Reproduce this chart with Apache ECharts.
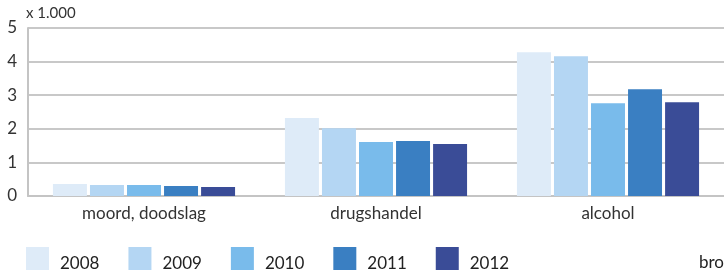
<!DOCTYPE html>
<html>
<head>
<meta charset="utf-8">
<script src="https://cdn.jsdelivr.net/npm/echarts@6/dist/echarts.min.js"></script>
<style>
  html, body { margin: 0; padding: 0; background: #fff; }
  #chart { width: 724px; height: 273px; }
</style>
</head>
<body>
<div id="chart"></div>
<script>
// categories and values (x 1.000)
const categories = ['moord, doodslag', 'drugshandel', 'alcohol'];
const years = ['2008', '2009', '2010', '2011', '2012'];
const v2008 = [0.36, 2.32, 4.28];
const v2009 = [0.33, 2.02, 4.16];
const v2010 = [0.33, 1.61, 2.76];
const v2011 = [0.30, 1.64, 3.18];
const v2012 = [0.27, 1.55, 2.79];
const yTicks = [0, 1, 2, 3, 4, 5];

const colors = ['#deebf8', '#b4d6f3', '#79bbeb', '#3a7fc2', '#3a4c97'];
const font = 'Lato, "Open Sans", sans-serif';

const seriesData = [v2008, v2009, v2010, v2011, v2012];

const chart = echarts.init(document.getElementById('chart'));

const options = {
  animation: false,
  textStyle: { fontFamily: font },
  grid: { left: 28, right: -3, top: 28, bottom: 77 },
  legend: {
    data: years,
    left: 26,
    top: 247,
    padding: 0,
    itemWidth: 23,
    itemHeight: 23,
    itemGap: 29,
    icon: 'rect',
    // push the year labels down so they sit low next to the squares
    formatter: (name) => '{s| }\n{t|' + name + '}',
    textStyle: {
      fontFamily: font, fontSize: 17, color: '#222', padding: [0, 0, 0, 6],
      rich: {
        s: { fontSize: 1, lineHeight: 11 },
        t: { fontFamily: font, fontSize: 17, lineHeight: 17, color: '#222' },
      },
    },
  },
  xAxis: {
    type: 'category',
    data: categories,
    axisLine: { lineStyle: { color: '#c4c4c4', width: 2 } },
    axisTick: { show: false },
    axisLabel: { fontFamily: font, fontSize: 17, color: '#333', margin: 9 },
  },
  yAxis: {
    type: 'value',
    min: 0,
    max: 5,
    interval: 1,
    name: 'x 1.000',
    nameLocation: 'end',
    nameGap: 7,
    nameTextStyle: { fontFamily: font, fontSize: 15, color: '#333', align: 'left', padding: [0, 0, 0, -2] },
    axisLine: { show: true, lineStyle: { color: '#c4c4c4', width: 2 } },
    axisTick: { show: false },
    axisLabel: {
      fontFamily: font, fontSize: 17, color: '#333', margin: 11,
      formatter: (v) => (yTicks.includes(v) ? String(v) : ''),
    },
    splitLine: { lineStyle: { color: '#c8c8c8', width: 2 } },
  },
  series: years.map((y, i) => ({
    name: y,
    type: 'bar',
    data: seriesData[i],
    barGap: '9%',
    barCategoryGap: '21.5%',
    itemStyle: { color: colors[i] },
  })),
  graphic: [
    {
      type: 'text',
      left: 699,
      top: 254,
      style: { text: 'bron: CBS', font: '17px ' + font, fill: '#222' },
    },
  ],
};

chart.setOption(options);
</script>
</body>
</html>
